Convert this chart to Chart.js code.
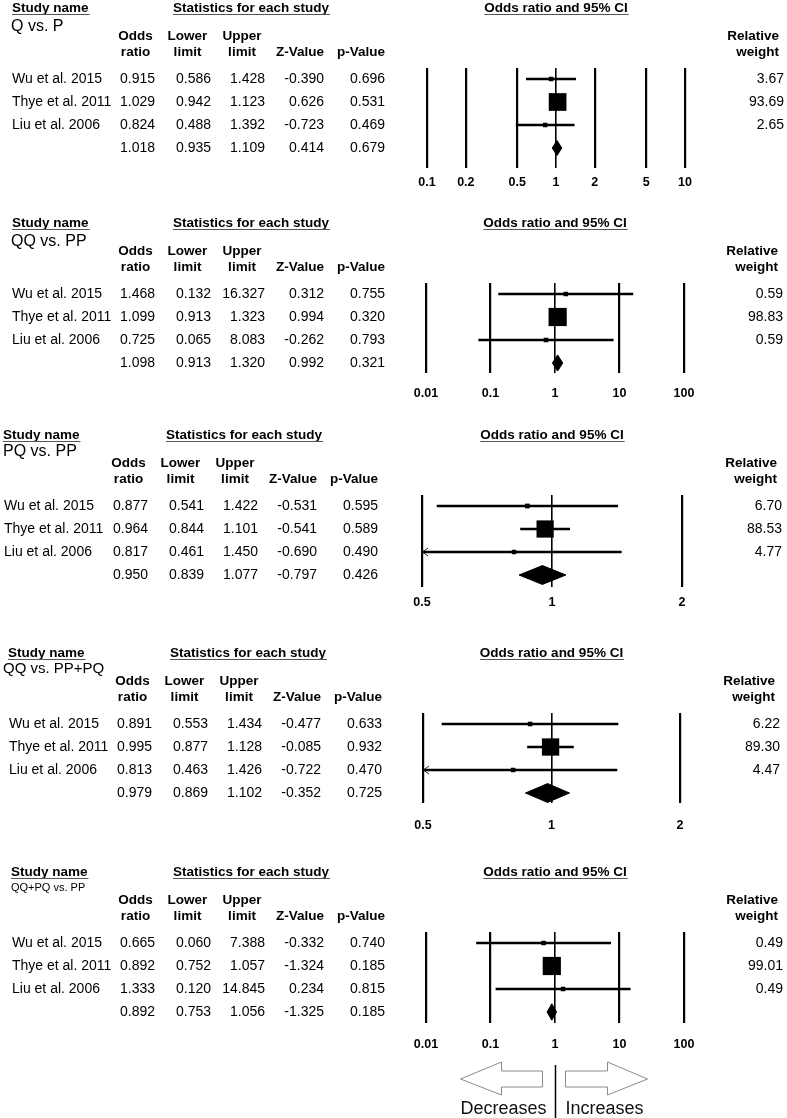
<!DOCTYPE html>
<html>
<head>
<meta charset="utf-8">
<script src="https://cdn.jsdelivr.net/npm/chart.js@4.4.1/dist/chart.umd.min.js"></script>
<style>
  body { margin: 0; background: #fff; }
  #wrap { position: relative; width: 787px; height: 1118px; overflow: hidden; }
  #wrap canvas { position: absolute; left: 0; display: block; }
</style>
</head>
<body>
<div id="wrap"></div>
<script>
// ---- data (last entry of each row = pooled estimate) ----
const studies = ['Wu et al. 2015', 'Thye et al. 2011', 'Liu et al. 2006'];
const comparisons = ['Q vs. P', 'QQ vs. PP', 'PQ vs. PP', 'QQ vs. PP+PQ', 'QQ+PQ vs. PP'];

const oddsRatio = [
    [0.915, 1.029, 0.824, 1.018],
    [1.468, 1.099, 0.725, 1.098],
    [0.877, 0.964, 0.817, 0.950],
    [0.891, 0.995, 0.813, 0.979],
    [0.665, 0.892, 1.333, 0.892]
];
const lowerLimit = [
    [0.586, 0.942, 0.488, 0.935],
    [0.132, 0.913, 0.065, 0.913],
    [0.541, 0.844, 0.461, 0.839],
    [0.553, 0.877, 0.463, 0.869],
    [0.060, 0.752, 0.120, 0.753]
];
const upperLimit = [
    [1.428, 1.123, 1.392, 1.109],
    [16.327, 1.323, 8.083, 1.320],
    [1.422, 1.101, 1.450, 1.077],
    [1.434, 1.128, 1.426, 1.102],
    [7.388, 1.057, 14.845, 1.056]
];
const zValue = [
    [-0.390, 0.626, -0.723, 0.414],
    [0.312, 0.994, -0.262, 0.992],
    [-0.531, -0.541, -0.690, -0.797],
    [-0.477, -0.085, -0.722, -0.352],
    [-0.332, -1.324, 0.234, -1.325]
];
const pValue = [
    [0.696, 0.531, 0.469, 0.679],
    [0.755, 0.320, 0.793, 0.321],
    [0.595, 0.589, 0.490, 0.426],
    [0.633, 0.932, 0.470, 0.725],
    [0.740, 0.185, 0.815, 0.185]
];
const relWeight = [
    [3.67, 93.69, 2.65],
    [0.59, 98.83, 0.59],
    [6.70, 88.53, 4.77],
    [6.22, 89.30, 4.47],
    [0.49, 99.01, 0.49]
];
const axisTicks = [
    [0.1, 0.2, 0.5, 1, 2, 5, 10],
    [0.01, 0.1, 1, 10, 100],
    [0.5, 1, 2],
    [0.5, 1, 2],
    [0.01, 0.1, 1, 10, 100]
];

// ---- layout ----
const W = 787;
const FONT = '"Liberation Sans", Arial, Helvetica, sans-serif';
const panelTop = [0, 215, 427, 645, 864, 1118];
const plotLeft = [427, 426, 422, 423, 426];
const plotRight = [685, 684, 682, 680, 684];
const plotBottom = [168, 158, 160, 158, 159];
const tickGap = [15, 21, 16, 23, 22];
const colShift = [0, 0, -7, -3, 0];
const studyX = [12, 12, 3, 8, 11];
const nameX = [12, 12, 4, 9, 12];
const subX = [11, 11, 3, 3, 11];
const subY = [27, 27, 25, 24, 24];
const subSize = [16, 16, 16, 15, 11];
const weightRight = [784, 783, 782, 780, 783];
const diamondHalf = [0.33, 0.35, 0.41, 0.41, 0.36];
const colRight = [155, 211, 265, 324, 385];
const PLOT_TOP = 68, ROW0 = 79, ROW_H = 23;
const TICK_SIZE = 12.5;

function squareSide(w) {
    return Math.max(4.5, 18.3 * Math.sqrt(w / 100));
}

function text(ctx, s, x, y, align, font, color) {
    ctx.font = font;
    ctx.textAlign = align;
    ctx.textBaseline = 'middle';
    ctx.fillStyle = color || '#000';
    ctx.fillText(s, x, y);
}

function underlined(ctx, s, x, y, align, font) {
    text(ctx, s, x, y, align, font);
    const w = ctx.measureText(s).width;
    const x0 = align === 'center' ? x - w / 2 : x;
    ctx.strokeStyle = '#555';
    ctx.lineWidth = 1;
    ctx.beginPath();
    ctx.moveTo(x0, 14.5);
    ctx.lineTo(x0 + w + 1, 14.5);
    ctx.stroke();
}

const forestTable = {
    id: 'forestTable',
    afterDraw(chart, args, opts) {
        const p = opts.panel;
        const ctx = chart.ctx;
        const xs = chart.scales.x;
        const ys = chart.scales.y;
        const bold = 'bold 13.5px ' + FONT;
        const reg = '14px ' + FONT;
        const cols = colRight.map(c => c + colShift[p]);
        ctx.save();

        underlined(ctx, 'Study name', studyX[p], 8, 'left', bold);
        underlined(ctx, 'Statistics for each study', 251 + colShift[p], 8, 'center', bold);
        underlined(ctx, 'Odds ratio and 95% CI', (xs.left + xs.right) / 2, 8, 'center', bold);
        text(ctx, comparisons[p], subX[p], subY[p], 'left', subSize[p] + 'px ' + FONT);

        text(ctx, 'Odds', cols[0] - 19.5, 36, 'center', bold);
        text(ctx, 'ratio', cols[0] - 19.5, 52, 'center', bold);
        text(ctx, 'Lower', cols[1] - 23.5, 36, 'center', bold);
        text(ctx, 'limit', cols[1] - 23.5, 52, 'center', bold);
        text(ctx, 'Upper', cols[2] - 23, 36, 'center', bold);
        text(ctx, 'limit', cols[2] - 23, 52, 'center', bold);
        text(ctx, 'Z-Value', cols[3], 52, 'right', bold);
        text(ctx, 'p-Value', cols[4], 52, 'right', bold);
        text(ctx, 'Relative', weightRight[p] - 5, 36, 'right', bold);
        text(ctx, 'weight', weightRight[p] - 5, 52, 'right', bold);

        for (let i = 0; i < 4; i++) {
            const yy = ys.getPixelForValue(i);
            if (i < studies.length) {
                text(ctx, studies[i], nameX[p], yy, 'left', reg);
                text(ctx, relWeight[p][i].toFixed(2), weightRight[p], yy, 'right', reg);
            }
            text(ctx, oddsRatio[p][i].toFixed(3), cols[0], yy, 'right', reg);
            text(ctx, lowerLimit[p][i].toFixed(3), cols[1], yy, 'right', reg);
            text(ctx, upperLimit[p][i].toFixed(3), cols[2], yy, 'right', reg);
            text(ctx, zValue[p][i].toFixed(3), cols[3], yy, 'right', reg);
            text(ctx, pValue[p][i].toFixed(3), cols[4], yy, 'right', reg);

            // arrow where the CI runs past the axis minimum
            if (i < studies.length && lowerLimit[p][i] < xs.min) {
                ctx.strokeStyle = '#222';
                ctx.lineWidth = 1;
                ctx.beginPath();
                ctx.moveTo(xs.left + 6, yy - 4);
                ctx.lineTo(xs.left + 0.5, yy);
                ctx.lineTo(xs.left + 6, yy + 4);
                ctx.stroke();
            }
        }

        if (p === 4) {
            const c = xs.getPixelForValue(1) + 0.5;
            ctx.strokeStyle = '#000';
            ctx.lineWidth = 1.5;
            ctx.beginPath();
            ctx.moveTo(c, 201);
            ctx.lineTo(c, chart.height);
            ctx.stroke();

            ctx.strokeStyle = '#8a8a8a';
            ctx.lineWidth = 1;
            ctx.beginPath();
            ctx.moveTo(c - 95, 215);
            ctx.lineTo(c - 54, 198);
            ctx.lineTo(c - 54, 207);
            ctx.lineTo(c - 13, 207);
            ctx.lineTo(c - 13, 223);
            ctx.lineTo(c - 54, 223);
            ctx.lineTo(c - 54, 231);
            ctx.closePath();
            ctx.stroke();
            ctx.beginPath();
            ctx.moveTo(c + 10, 207);
            ctx.lineTo(c + 52, 207);
            ctx.lineTo(c + 52, 198);
            ctx.lineTo(c + 92, 215);
            ctx.lineTo(c + 52, 231);
            ctx.lineTo(c + 52, 223);
            ctx.lineTo(c + 10, 223);
            ctx.closePath();
            ctx.stroke();

            text(ctx, 'Decreases', c - 9, 245, 'right', '18px ' + FONT, '#111');
            text(ctx, 'Increases', c + 10, 245, 'left', '18px ' + FONT, '#111');
        }
        ctx.restore();
    }
};

function buildPanel(p) {
    const H = panelTop[p + 1] - panelTop[p];
    const canvas = document.createElement('canvas');
    canvas.width = W;
    canvas.height = H;
    canvas.style.top = panelTop[p] + 'px';
    document.getElementById('wrap').appendChild(canvas);

    const pad = tickGap[p] - 7.5;
    const axisH = TICK_SIZE * 1.2 + 2 * pad;

    const datasets = [];
    // confidence interval lines
    for (let i = 0; i < studies.length; i++) {
        datasets.push({
            data: [{x: lowerLimit[p][i], y: i}, {x: upperLimit[p][i], y: i}],
            showLine: true,
            borderColor: '#000',
            borderWidth: 2.7,
            pointRadius: 0
        });
    }
    // study boxes, area ~ weight
    datasets.push({
        data: studies.map((s, i) => ({x: oddsRatio[p][i], y: i})),
        pointStyle: 'rect',
        pointRadius: c => squareSide(relWeight[p][c.dataIndex]) / Math.SQRT2,
        pointHoverRadius: c => squareSide(relWeight[p][c.dataIndex]) / Math.SQRT2,
        backgroundColor: '#000',
        borderWidth: 0
    });
    // pooled diamond
    const r = 3, h = diamondHalf[p];
    datasets.push({
        data: [
            {x: lowerLimit[p][r], y: r},
            {x: oddsRatio[p][r], y: r - h},
            {x: upperLimit[p][r], y: r},
            {x: oddsRatio[p][r], y: r + h},
            {x: lowerLimit[p][r], y: r}
        ],
        showLine: true,
        fill: 'shape',
        backgroundColor: '#000',
        borderColor: '#000',
        borderWidth: 1,
        pointRadius: 0,
        tension: 0
    });

    new Chart(canvas, {
        type: 'scatter',
        data: {datasets: datasets},
        options: {
            responsive: false,
            animation: false,
            events: [],
            layout: {
                padding: {
                    top: PLOT_TOP,
                    left: plotLeft[p],
                    right: W - plotRight[p],
                    bottom: H - plotBottom[p] - axisH
                }
            },
            plugins: {
                legend: {display: false},
                tooltip: {enabled: false},
                forestTable: {panel: p}
            },
            scales: {
                x: {
                    type: 'logarithmic',
                    min: axisTicks[p][0],
                    max: axisTicks[p][axisTicks[p].length - 1],
                    afterBuildTicks: scale => {
                        scale.ticks = axisTicks[p].map(v => ({value: v}));
                    },
                    border: {display: false},
                    grid: {
                        color: '#000',
                        lineWidth: c => (c.tick && c.tick.value === 1) ? 1.6 : 2.2,
                        drawTicks: false
                    },
                    ticks: {
                        autoSkip: false,
                        maxRotation: 0,
                        padding: pad,
                        color: '#000',
                        font: {family: FONT, size: TICK_SIZE, weight: 'bold'},
                        callback: v => String(v)
                    }
                },
                y: {
                    type: 'linear',
                    display: false,
                    reverse: true,
                    min: (PLOT_TOP - ROW0) / ROW_H,
                    max: (plotBottom[p] - ROW0) / ROW_H
                }
            }
        },
        plugins: [forestTable]
    });
}

for (let p = 0; p < comparisons.length; p++) {
    buildPanel(p);
}
</script>
</body>
</html>
